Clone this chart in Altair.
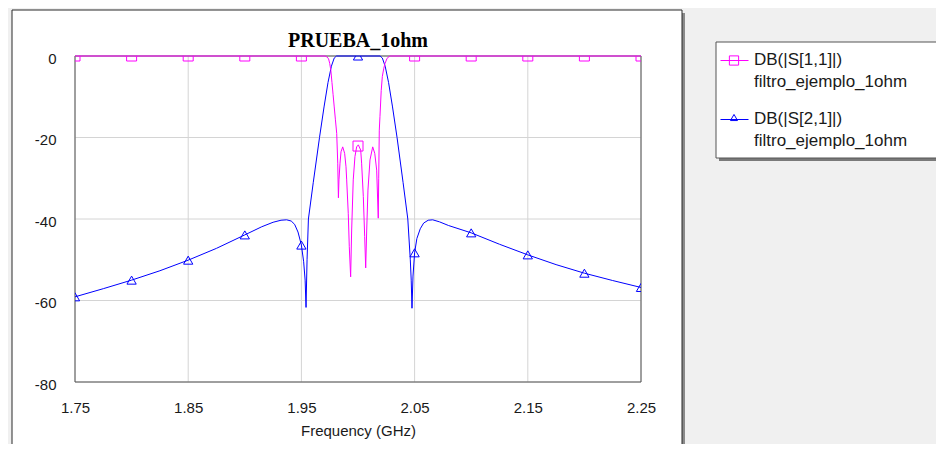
import altair as alt
import pandas as pd

TITLE = "PRUEBA_1ohm"
X_TITLE = "Frequency (GHz)"
SERIES = ["DB(|S[1,1]|)", "DB(|S[2,1]|)"]
SOURCE = "filtro_ejemplo_1ohm"

x_ticks = [1.75, 1.85, 1.95, 2.05, 2.15, 2.25]
y_ticks = [0, -20, -40, -60, -80]

# DB(|S[2,1]|)
s21_freq = [1.750, 1.775, 1.800, 1.825, 1.850, 1.875, 1.900, 1.915, 1.925, 1.932,
            1.937, 1.941, 1.944, 1.947, 1.950, 1.952, 1.9533, 1.9541, 1.9550, 1.9562,
            1.9605, 1.9660, 1.9700, 1.9735, 1.9765, 1.9790, 1.9810, 2.0000, 2.0195, 2.0215,
            2.0240, 2.0270, 2.0305, 2.0345, 2.0398, 2.0440, 2.0462, 2.0470, 2.0477, 2.0486,
            2.0500, 2.0520, 2.0550, 2.0580, 2.0620, 2.0660, 2.0720, 2.0800, 2.1000, 2.1250,
            2.1500, 2.1750, 2.2000, 2.2250, 2.2500]
s21_db = [-59.1, -57.1, -55.0, -52.7, -50.1, -47.2, -43.9, -41.9, -40.8, -40.3,
          -40.2, -40.5, -41.3, -43.2, -46.4, -50.5, -55.0, -61.7, -50.0, -40.0,
          -31.0, -20.0, -12.5, -6.5, -2.5, -0.5, 0.0, 0.0, 0.0, -0.5,
          -2.5, -6.5, -12.5, -20.0, -31.0, -40.0, -50.0, -55.0, -61.9, -54.0,
          -48.3, -44.8, -42.4, -41.0, -40.3, -40.2, -40.7, -41.6, -43.4, -46.2,
          -48.8, -51.2, -53.3, -55.1, -56.8]

# DB(|S[1,1]|)
s11_freq = [1.7500, 1.9710, 1.9725, 1.9740, 1.9750, 1.9760, 1.9770, 1.9780, 1.9790, 1.9800,
            1.9812, 1.9821, 1.9827, 1.9832, 1.9841, 1.9850, 1.9865, 1.9882, 1.9894, 1.9900,
            1.9914, 1.9923, 1.9935, 1.9944, 1.9958, 1.9973, 1.9988, 2.0003, 2.0024, 2.0032,
            2.0047, 2.0059, 2.0068, 2.0077, 2.0088, 2.0106, 2.0130, 2.0148, 2.0165, 2.0179,
            2.0183, 2.0188, 2.0194, 2.0205, 2.0215, 2.0228, 2.0239, 2.0255, 2.0270, 2.0285,
            2.2500]
s11_db = [0.0, 0.0, -0.2, -0.7, -1.8, -3.5, -6.5, -9.5, -12.5, -15.5,
          -19.0, -26.3, -34.8, -30.4, -26.3, -23.5, -22.3, -23.9, -27.2, -30.4,
          -38.6, -46.8, -54.2, -42.7, -30.4, -24.7, -22.3, -21.8, -23.1, -26.3,
          -34.5, -44.3, -52.0, -42.7, -32.9, -25.5, -22.3, -23.9, -28.0, -39.8,
          -30.0, -18.2, -14.9, -8.5, -5.0, -3.0, -1.8, -0.7, -0.2, 0.0,
          0.0]

marker_freq = [1.75, 1.80, 1.85, 1.90, 1.95, 2.00, 2.05, 2.10, 2.15, 2.20, 2.25]
s11_marker_db = [0, 0, 0, 0, 0, -22.1, 0, 0, 0, 0, 0]
s21_marker_db = [-59.1, -55.0, -50.1, -43.9, -46.4, 0, -48.3, -43.4, -48.8, -53.3, -56.8]

PINK = "#ff00ff"
BLUE = "#0000ff"
SANS = "Liberation Sans"

xscale = alt.Scale(domain=[1.75, 2.25], nice=False, zero=False)
yscale = alt.Scale(domain=[-80, 0], nice=False, zero=False)
xaxis = alt.Axis(values=x_ticks, labelExpr="format(datum.value, '.2f')", grid=False,
                 domain=False, ticks=False, labelPadding=18, labelFont=SANS,
                 labelFontSize=15, labelColor="#1a1a1a", labelFlush=False,
                 labelOverlap=False, title=X_TITLE, titleFont=SANS, titleFontSize=15,
                 titleFontWeight="normal", titleColor="#1a1a1a", titlePadding=8, zindex=1)
yaxis = alt.Axis(values=y_ticks, labelExpr="'' + datum.value", grid=False,
                 domain=False, ticks=False, labelPadding=19, labelFont=SANS,
                 labelFontSize=15, labelColor="#1a1a1a", labelFlush=False,
                 labelOverlap=False, labelOffset=2, title=None, zindex=1)

X = lambda f: alt.X(f"{f}:Q", scale=xscale, axis=xaxis)
Y = lambda f: alt.Y(f"{f}:Q", scale=yscale, axis=yaxis)

one = pd.DataFrame({"k": [0]})

panel_shadow = alt.Chart(one).mark_rect(color="#8a8a8a").encode(
    x=alt.value(-60), x2=alt.value(610), y=alt.value(-43), y2=alt.value(403))
panel = alt.Chart(one).mark_rect(fill="white", stroke="#2a2a2a", strokeWidth=1).encode(
    x=alt.value(-63), x2=alt.value(607), y=alt.value(-46), y2=alt.value(400))

title = alt.Chart(one).mark_text(align="center", baseline="alphabetic", font="Liberation Serif",
                                 fontSize=20, fontWeight="bold", color="black").encode(
    x=alt.value(283), y=alt.value(-9), text=alt.value(TITLE))

gx = alt.Chart(pd.DataFrame({"f": x_ticks})).mark_rule(color="#d4d4d4", strokeWidth=1).encode(x=X("f"))
gy = alt.Chart(pd.DataFrame({"db": y_ticks})).mark_rule(color="#d4d4d4", strokeWidth=1).encode(y=Y("db"))

frame = alt.Chart(one).mark_rect(fillOpacity=0, stroke="#555555", strokeWidth=1).encode(
    x=alt.value(0), x2=alt.value(566), y=alt.value(0), y2=alt.value(326))

leg_shadow = alt.Chart(one).mark_rect(color="#7a7a7a").encode(
    x=alt.value(644), x2=alt.value(900), y=alt.value(-11), y2=alt.value(105))
leg_box = alt.Chart(one).mark_rect(fill="white", stroke="#555555", strokeWidth=1).encode(
    x=alt.value(641), x2=alt.value(897), y=alt.value(-14), y2=alt.value(102))

leg_line1 = alt.Chart(one).mark_rule(color=PINK, strokeWidth=1).encode(
    x=alt.value(645.5), x2=alt.value(673.5), y=alt.value(4.5))
leg_sym1 = alt.Chart(one).mark_point(shape="square", filled=False, size=85, color=PINK,
                                     strokeWidth=1, opacity=1).encode(
    x=alt.value(659), y=alt.value(4.5))
leg_line2 = alt.Chart(one).mark_rule(color=BLUE, strokeWidth=1).encode(
    x=alt.value(645.5), x2=alt.value(673.5), y=alt.value(63.5))
leg_sym2 = alt.Chart(one).mark_point(shape="triangle-up", filled=False, size=50, color=BLUE,
                                     strokeWidth=1, opacity=1).encode(
    x=alt.value(659), y=alt.value(61.5))


def legend_text(txt, ypix):
    return alt.Chart(one).mark_text(align="left", baseline="middle", font=SANS, fontSize=17,
                                    color="#1a1a1a").encode(
        x=alt.value(679), y=alt.value(ypix), text=alt.value(txt))


lt = [legend_text(SERIES[0], 4), legend_text(SOURCE, 25.7),
      legend_text(SERIES[1], 63), legend_text(SOURCE, 84.7)]

df21 = pd.DataFrame({"f": s21_freq, "db": s21_db})
df11 = pd.DataFrame({"f": s11_freq, "db": s11_db})
m21 = pd.DataFrame({"f": marker_freq, "db": s21_marker_db})
m11 = pd.DataFrame({"f": marker_freq, "db": s11_marker_db})

l21 = alt.Chart(df21).mark_line(color=BLUE, strokeWidth=1).encode(x=X("f"), y=Y("db"))
p21 = alt.Chart(m21).mark_point(shape="triangle-up", filled=False, size=86, color=BLUE,
                                strokeWidth=1, opacity=1, clip=True).encode(x=X("f"), y=Y("db"))
l11 = alt.Chart(df11).mark_line(color=PINK, strokeWidth=1).encode(x=X("f"), y=Y("db"))
p11 = alt.Chart(m11).mark_point(shape="square", filled=False, size=100, color=PINK,
                                strokeWidth=1, opacity=1, clip=True).encode(x=X("f"), y=Y("db"))

chart = alt.layer(
    panel_shadow, panel, title, gx, gy, frame, leg_shadow, leg_box,
    leg_line1, leg_sym1, leg_line2, leg_sym2, *lt,
    l21, p21, l11, p11,
).properties(
    width=566, height=326,
    autosize=alt.AutoSizeParams(type="none"),
    padding={"left": 67, "top": 48, "right": 295, "bottom": 62},
    background="#f0f0f0",
).configure_view(strokeWidth=0)

chart.save("out.html", embed_options={"renderer": "svg", "actions": False})
